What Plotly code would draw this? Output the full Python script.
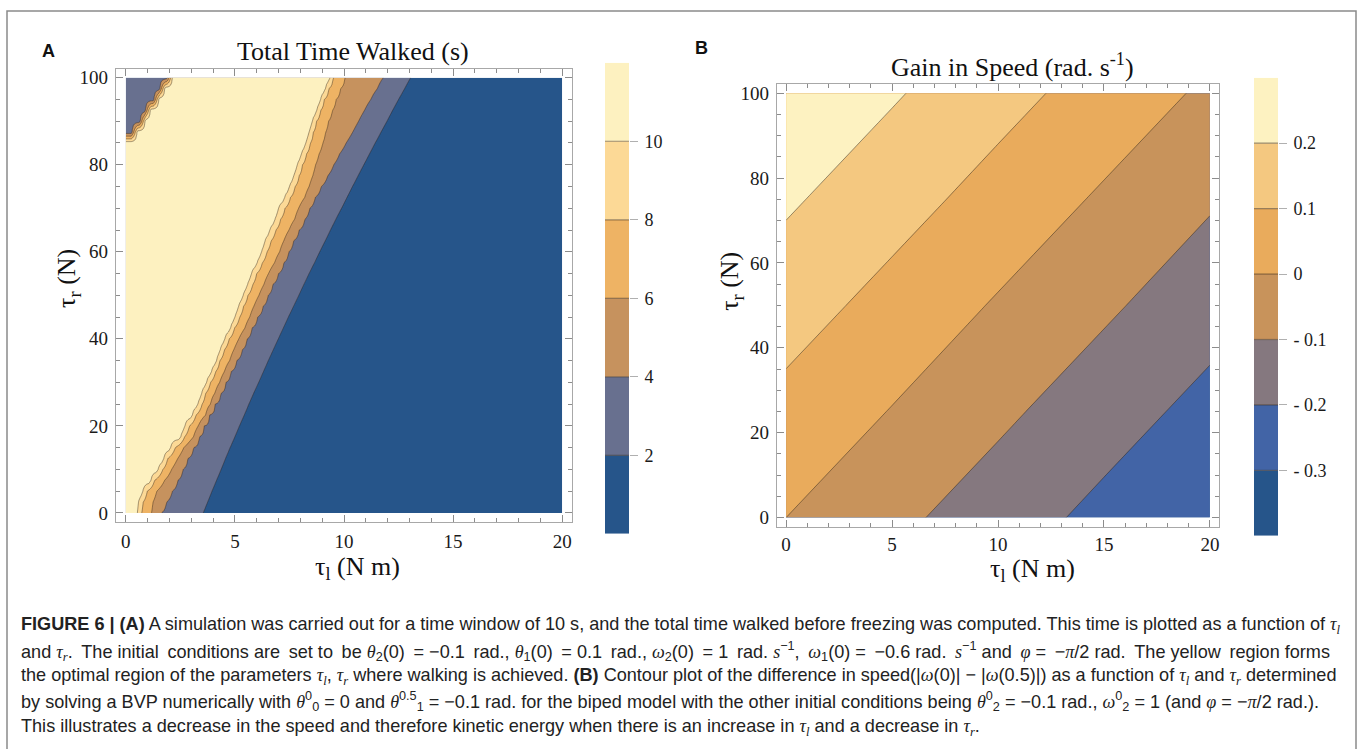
import re
import numpy as np
import plotly.graph_objects as go

W, H = 1363, 749
SERIF = "Liberation Serif, Times New Roman, serif"
SANS = "Liberation Sans, Arial, Helvetica, sans-serif"

# ---------------- Panel A : total time walked (s) ----------------
# rows of tau_r (N) and, for every row, the tau_l (N m) position where each level is crossed
a_y_rows = [0, 2.5, 5, 7.5, 10, 12.5, 15, 17.5, 20, 22.5, 25, 27.5, 30, 32.5, 35, 37.5, 40,
            42.5, 45, 47.5, 50, 52.5, 55, 57.5, 60, 62.5, 65, 67.5, 70, 72.5, 75, 77.5, 80,
            82.5, 85, 87.5, 90, 92.5, 95, 97.5, 100]
a_edge_10 = [0.53, 0.58, 0.78, 1.15, 1.48, 1.74, 2.05, 2.52, 2.71, 3.05, 3.30, 3.48, 3.70, 3.93,
             4.16, 4.33, 4.54, 4.80, 5.00, 5.17, 5.38, 5.58, 5.76, 6.02, 6.22, 6.38, 6.60, 6.84,
             7.00, 7.28, 7.50, 7.70, 7.86, 8.05, 8.25, 8.40, 8.55, 8.75, 8.93, 9.15, 9.36]
a_edge_8 = [0.72, 0.80, 0.98, 1.32, 1.70, 1.92, 2.27, 2.70, 2.92, 3.22, 3.50, 3.66, 3.88, 4.12,
            4.31, 4.52, 4.74, 4.98, 5.22, 5.40, 5.60, 5.82, 6.00, 6.26, 6.47, 6.66, 6.88, 7.10,
            7.30, 7.55, 7.76, 7.95, 8.10, 8.28, 8.46, 8.60, 8.74, 8.93, 9.10, 9.31, 9.51]
a_edge_6 = [1.18, 1.25, 1.42, 1.78, 2.10, 2.38, 2.66, 3.10, 3.32, 3.66, 3.88, 4.08, 4.30, 4.52,
            4.76, 4.95, 5.18, 5.46, 5.68, 5.87, 6.10, 6.33, 6.54, 6.82, 7.05, 7.24, 7.48, 7.74,
            7.92, 8.20, 8.40, 8.57, 8.70, 8.86, 9.03, 9.16, 9.29, 9.47, 9.64, 9.85, 10.05]
a_edge_4 = [1.64, 1.87, 2.13, 2.39, 2.62, 2.85, 3.11, 3.37, 3.60, 3.83, 4.10, 4.36, 4.59, 4.82,
            5.08, 5.34, 5.56, 5.78, 6.04, 6.30, 6.52, 6.74, 7.00, 7.25, 7.47, 7.69, 7.95, 8.21,
            8.43, 8.68, 8.96, 9.26, 9.53, 9.80, 10.10, 10.40, 10.67, 10.94, 11.23, 11.53, 11.80]
a_edge_2 = [3.55, 3.75, 3.95, 4.16, 4.37, 4.57, 4.78, 5.00, 5.21, 5.43, 5.64, 5.86, 6.09, 6.31,
            6.53, 6.76, 6.99, 7.22, 7.45, 7.69, 7.93, 8.16, 8.40, 8.65, 8.89, 9.14, 9.38, 9.63,
            9.89, 10.14, 10.39, 10.65, 10.91, 11.17, 11.43, 11.70, 11.97, 12.23, 12.50, 12.78, 13.05]
a_corner = [0] * 35 + [0.25, 0.62, 0.86, 1.25, 1.52, 1.87]
a_full_time = 11.0     # yellow plateau
a_corner_time = 3.0    # top-left slate corner
a_low_time = 0.5       # far right (blue)
a_levels = [2, 4, 6, 8, 10]
a_band_edges = [0, 2, 4, 6, 8, 10, 12]
a_band_colors = ['#26558a', '#68708f', '#c6925e', '#eeb364', '#fcd996', '#fdf1c0']

# ---------------- Panel B : gain in speed ----------------
b_x = [0, 5, 10, 15, 20]
b_y = [0, 25, 50, 75, 100]
b_z = [
    [0.000, -0.076, -0.151, -0.227, -0.298],
    [0.071, -0.004, -0.080, -0.156, -0.231],
    [0.143, 0.067, -0.009, -0.084, -0.160],
    [0.214, 0.139, 0.063, -0.013, -0.089],
    [0.286, 0.210, 0.134, 0.059, -0.017],
]
b_levels = [-0.3, -0.2, -0.1, 0.0, 0.1, 0.2]
b_band_edges = [-0.4, -0.3, -0.2, -0.1, 0.0, 0.1, 0.2, 0.3]
b_band_colors = ['#26558a', '#4264a6', '#85787f', '#c8935b', '#e9ab5c', '#f4c880', '#fdf2c1']
b_tick_text = ['- 0.3', '- 0.2', '- 0.1', '0', '0.1', '0.2']

# ---------------- build panel A grid from the read crossings ----------------
a_x = np.round(np.arange(0, 20.0001, 0.05), 4)
Z_A = []
for i in range(len(a_y_rows)):
    c = a_corner[i]
    if c > 0:
        kx = [0, c, c + 0.3]
        kv = [a_corner_time, a_corner_time, a_full_time]
    else:
        kx = [0]
        kv = [a_full_time]
    w2 = a_edge_2[i] - a_edge_4[i]
    kx += [a_edge_10[i] - 0.1, a_edge_10[i], a_edge_8[i], a_edge_6[i], a_edge_4[i],
           a_edge_2[i], a_edge_2[i] + 0.6 * w2, 20]
    kv += [a_full_time, 10, 8, 6, 4, 2, 0.8, a_low_time]
    Z_A.append(np.interp(a_x, kx, kv))


def stepscale(colors):
    n = len(colors) - 1
    return [[i / n, c] for i, c in enumerate(colors)]


fig = go.Figure()

fig.add_trace(go.Contour(
    x=a_x, y=a_y_rows, z=Z_A, autocontour=False,
    contours=dict(start=a_levels[0], end=a_levels[-1], size=a_levels[1] - a_levels[0],
                  coloring='fill', showlines=True),
    colorscale=stepscale(a_band_colors),
    line=dict(color='rgba(45,35,25,0.55)', width=0.8, smoothing=0),
    showscale=False, hoverinfo='skip', xaxis='x', yaxis='y'))

fig.add_trace(go.Contour(
    x=b_x, y=b_y, z=b_z, autocontour=False,
    contours=dict(start=b_levels[0], end=b_levels[-1], size=0.1,
                  coloring='fill', showlines=True),
    colorscale=stepscale(b_band_colors),
    line=dict(color='rgba(45,35,25,0.6)', width=0.8, smoothing=0),
    showscale=False, hoverinfo='skip', xaxis='x2', yaxis='y2'))


def add_colorbar(edges, colors, levels, xa, ya):
    heights = [edges[k + 1] - edges[k] for k in range(len(edges) - 1)]
    fig.add_trace(go.Bar(x=[0] * len(heights), y=heights, base=edges[:-1], width=1,
                         marker=dict(color=colors, line=dict(width=0)),
                         hoverinfo='skip', xaxis=xa, yaxis=ya))
    lx, ly = [], []
    for lv in levels:
        lx += [-0.5, 0.5, None]
        ly += [lv, lv, None]
    fig.add_trace(go.Scatter(x=lx, y=ly, mode='lines',
                             line=dict(color='rgba(60,45,30,0.5)', width=1.2),
                             hoverinfo='skip', xaxis=xa, yaxis=ya))


add_colorbar(a_band_edges, a_band_colors, a_levels, 'x3', 'y3')
add_colorbar(b_band_edges, b_band_colors, b_levels, 'x4', 'y4')


def frame_axis(domain, rng, dtick, minor_dtick, anchor, standoff):
    return dict(domain=domain, range=rng, tick0=0, dtick=dtick, ticks='inside', ticklen=7,
                tickwidth=1, tickcolor='#8c8c8c', showline=True, linecolor='#a8a8a8',
                linewidth=1.3, mirror='allticks', showgrid=False, zeroline=False,
                anchor=anchor,
                minor=dict(ticks='inside', ticklen=4, dtick=minor_dtick, tick0=0,
                           tickcolor='#8c8c8c', tickwidth=1, showgrid=False),
                tickfont=dict(family=SERIF, size=19, color='#1a1a1a'),
                ticklabelstandoff=standoff, fixedrange=True)


def cb_axes(xdom, ydom, rng, levels, text, anchor):
    xa = dict(domain=xdom, range=[-0.5, 0.5], visible=False, fixedrange=True, anchor=anchor[1])
    ya = dict(domain=ydom, range=rng, side='right', anchor=anchor[0], tickmode='array',
              tickvals=levels, ticktext=text, ticks='outside', ticklen=8, tickcolor='#b0b0b0',
              showline=False, showgrid=False, zeroline=False, fixedrange=True,
              tickfont=dict(family=SERIF, size=18, color='#1a1a1a'), ticklabelstandoff=3)
    return xa, ya


cb3x, cb3y = cb_axes([605 / W, 629 / W], [1 - 535 / H, 1 - 62 / H],
                     [a_band_edges[0], a_band_edges[-1]], a_levels, [str(v) for v in a_levels], ('x3', 'y3'))
cb4x, cb4y = cb_axes([1254 / W, 1278 / W], [1 - 537 / H, 1 - 77 / H],
                     [b_band_edges[0], b_band_edges[-1]], b_levels, b_tick_text, ('x4', 'y4'))


def M(s):
    return '<span style="font-family:Liberation Serif"><i>' + s + '</i></span>'


def widen(html):
    # justified look: add a thin space after every other word gap (outside tags)
    parts = re.split(r'(<[^>]+>)', html)
    out, n = [], 0
    for p in parts:
        if p.startswith('<'):
            out.append(p)
            continue
        chars = []
        for ch in p:
            chars.append(ch)
            if ch == ' ':
                n += 1
                if n % 2 == 0:
                    chars.append('\u2009')
        out.append(''.join(chars))
    return ''.join(out)


TL = M('τ') + '<sub>' + M('l') + '</sub>'
TR = M('τ') + '<sub>' + M('r') + '</sub>'
caption = [
    '<b>FIGURE 6 | (A)</b> A simulation was carried out for a time window of 10 s, and the total time walked '
    'before freezing was computed. This time is plotted as a function of ' + TL,
    widen('and ' + TR + '. The initial conditions are set to be ' + M('θ') + '<sub>2</sub>(0) = −0.1 rad., '
          + M('θ') + '<sub>1</sub>(0) = 0.1 rad., ' + M('ω') + '<sub>2</sub>(0) = 1 rad. ' + M('s')
          + '<sup>−1</sup>, ' + M('ω') + '<sub>1</sub>(0) = −0.6 rad. ' + M('s') + '<sup>−1</sup> and '
          + M('φ') + ' = −' + M('π') + '/2 rad. The yellow region forms'),
    'the optimal region of the parameters ' + TL + ', ' + TR + ' where walking is achieved. <b>(B)</b> '
    'Contour plot of the difference in speed(|' + M('ω') + '(0)| − |' + M('ω') + '(0.5)|) as a function of '
    + TL + ' and ' + TR + ' determined',
    'by solving a BVP numerically with ' + M('θ') + '<sup>0</sup><sub>0</sub> = 0 and ' + M('θ')
    + '<sup>0.5</sup><sub>1</sub> = −0.1 rad. for the biped model with the other initial conditions being '
    + M('θ') + '<sup>0</sup><sub>2</sub> = −0.1 rad., ' + M('ω') + '<sup>0</sup><sub>2</sub> = 1 (and '
    + M('φ') + ' = −' + M('π') + '/2 rad.).',
    'This illustrates a decrease in the speed and therefore kinetic energy when there is an increase in '
    + TL + ' and a decrease in ' + TR + '.',
]
caption_y = [627, 653, 678, 703, 729]

annotations = []


def ann(text, x, y, size, family, xanchor='center', angle=0, color='#111'):
    annotations.append(dict(text=text, x=x / W, y=1 - y / H, xref='paper', yref='paper',
                            xanchor=xanchor, yanchor='middle', showarrow=False, textangle=angle,
                            font=dict(family=family, size=size, color=color)))


ann('<b>A</b>', 48, 50, 18, SANS)
ann('<b>B</b>', 701, 47, 18, SANS)
ann('Total Time Walked (s)', 353, 51, 26, SERIF)
ann('Gain in Speed (rad. s<sup>-1</sup>)', 1012, 65, 26, SERIF)
ann('τ<sub>l</sub> (N m)', 357, 569, 26, SERIF)
ann('τ<sub>l</sub> (N m)', 1032, 571, 26, SERIF)
ann('τ<sub>r</sub> (N)', 68, 279, 26, SERIF, angle=-90)
ann('τ<sub>r</sub> (N)', 731, 282, 26, SERIF, angle=-90)
for t, yy in zip(caption, caption_y):
    ann(t, 19, yy, 18.1, SANS, xanchor='left', color='#222')

fig.update_layout(
    width=W, height=H, margin=dict(l=0, r=0, t=0, b=0),
    paper_bgcolor='white', plot_bgcolor='white', showlegend=False, barmode='overlay',
    xaxis=frame_axis([116 / W, 572 / W], [-0.45, 20.45], 5, 1, 'y', 2),
    yaxis=frame_axis([1 - 523 / H, 1 - 68 / H], [-2.06, 102.06], 20, 5, 'x', 3),
    xaxis2=frame_axis([777 / W, 1219 / W], [-0.43, 20.43], 5, 1, 'y2', 0),
    yaxis2=frame_axis([1 - 528 / H, 1 - 83 / H], [-2.2, 102.25], 20, 5, 'x2', 3),
    xaxis3=cb3x, yaxis3=cb3y, xaxis4=cb4x, yaxis4=cb4y,
    annotations=annotations,
    shapes=[dict(type='rect', xref='paper', yref='paper', x0=7 / W, x1=1356 / W,
                 y0=-0.05, y1=1 - 10 / H, line=dict(color='#8a8a8a', width=1.5),
                 fillcolor='rgba(0,0,0,0)', layer='below')],
)

fig.write_html("out.html")
